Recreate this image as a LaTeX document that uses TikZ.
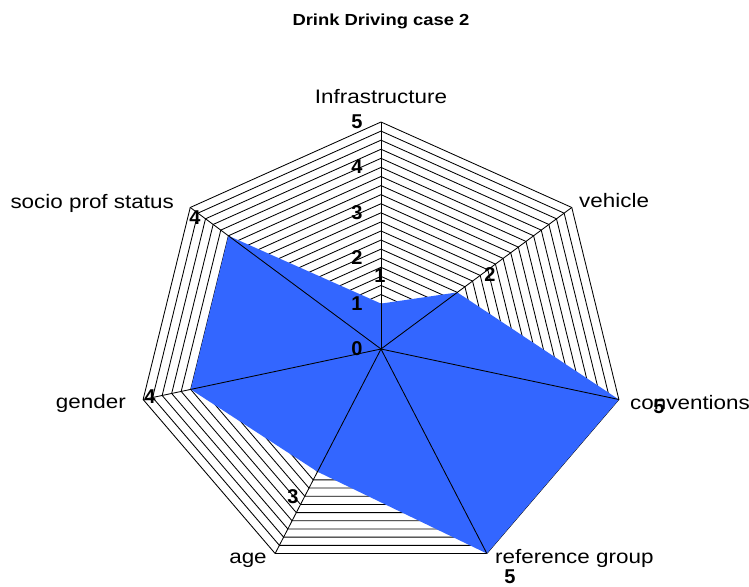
\documentclass[tikz,border=0pt]{standalone}
\usepackage{fontspec}
\setmainfont{Liberation Sans}
\usetikzlibrary{calc}
\definecolor{seriesblue}{RGB}{51,102,255}
\newcommand{\widetxt}[1]{\scalebox{1.15}[1]{#1}}
\begin{document}
\begin{tikzpicture}[x=1pt,y=-1pt,
  gridline/.style={line width=0.85pt, black},
  axislabel/.style={font=\fontsize{19.5}{20}\selectfont, inner sep=0pt},
  numlabel/.style={font=\fontsize{20}{21}\selectfont\bfseries, inner sep=0pt},
  titlelabel/.style={font=\fontsize{16}{17}\selectfont\bfseries, inner sep=0pt},
]
\useasboundingbox[fill=white] (0,0) rectangle (749,586);
\def\rx{48.8}\def\ry{45.4}
\coordinate (C) at (381,349);
% outer ends of the seven axes (value 5)
\foreach \k in {0,...,6} {
  \pgfmathsetmacro\t{90-\k*360/7}
  \coordinate (ax\k) at ({381+5*\rx*cos(\t)},{349-5*\ry*sin(\t)});
}
% concentric grid rings, one every 0.2
\foreach \i in {1,...,25} {
  \draw[gridline] ($(C)!\i/25!(ax0)$)
    \foreach \k in {1,...,6} { -- ($(C)!\i/25!(ax\k)$) } -- cycle;
}
% data series
\fill[seriesblue] ($(C)!0.2!(ax0)$) -- ($(C)!0.4!(ax1)$) -- (ax2) -- (ax3)
  -- ($(C)!0.6!(ax4)$) -- ($(C)!0.8!(ax5)$) -- ($(C)!0.8!(ax6)$) -- cycle;
% spokes
\foreach \k in {0,...,6} { \draw[gridline] (C) -- (ax\k); }

% title and category labels
\node[titlelabel] (title) at (381,21) {\widetxt{Drink Driving case 2}};
\node[axislabel] (lInfra) at (381,97) {\widetxt{Infrastructure}};
\node[axislabel, anchor=west] (lVeh) at (579,201) {\widetxt{vehicle}};
\node[axislabel, anchor=west] (lConv) at (630,403) {\widetxt{conventions}};
\node[axislabel, anchor=west] (lRef) at (495,558) {\widetxt{reference group}};
\node[axislabel] (lAge) at (248,560) {\widetxt{age}};
\node[axislabel, anchor=east] (lGen) at (126,403) {\widetxt{gender}};
\node[axislabel, anchor=east] (lSoc) at (174,203) {\widetxt{socio prof status}};

% scale values
\node[numlabel] (s5) at (357,122) {5};
\node[numlabel] (s4) at (357,167) {4};
\node[numlabel] (s3) at (357,213) {3};
\node[numlabel] (s2) at (357,258) {2};
\node[numlabel] (s1) at (357,304) {1};
\node[numlabel] (s0) at (357,349) {0};

% data values
\node[numlabel] (vInfra) at (380,276) {1};
\node[numlabel] (vVeh) at (490,275) {2};
\node[numlabel] (vConv) at (659,407) {5};
\node[numlabel] (vRef) at (510,577) {5};
\node[numlabel] (vAge) at (293,497) {3};
\node[numlabel] (vGen) at (150,397) {4};
\node[numlabel] (vSoc) at (195,218) {4};
\end{tikzpicture}
\end{document}
